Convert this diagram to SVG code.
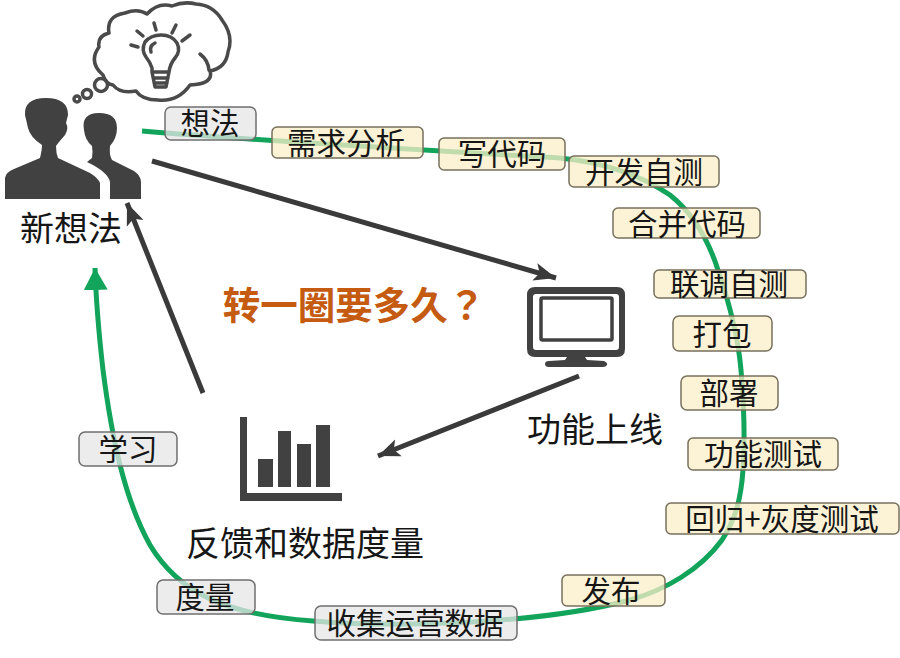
<svg xmlns="http://www.w3.org/2000/svg" width="900" height="658" viewBox="0 0 900 658">
<style>
text{font-family:"Noto Sans CJK SC","Liberation Sans",sans-serif;fill:#161616;text-anchor:middle}
.lb{font-size:29.5px}
.cap{font-size:34px}
.y{fill:#fbefc9;fill-opacity:.75;stroke:#77705c;stroke-width:1.5}
.g{fill:#e6e6e6;fill-opacity:.75;stroke:#6f6f6f;stroke-width:1.5}
.dk{fill:#414141}
.ln{fill:none;stroke:#4a4a4a;stroke-width:3.5;stroke-linecap:round;stroke-linejoin:round}
.ar{fill:none;stroke:#3a3a3a;stroke-width:5}
</style>
<defs>
<marker id="dark" markerUnits="userSpaceOnUse" markerWidth="24" markerHeight="20" refX="22" refY="10" orient="auto"><path d="M0,1 L22,10 L0,19 L5,10 Z" fill="#3a3a3a"/></marker>
<marker id="green" markerUnits="userSpaceOnUse" markerWidth="24" markerHeight="26" refX="22" refY="13" orient="auto"><path d="M0,1 L22,13 L0,25 Z" fill="#12a45a"/></marker>
</defs>
<rect width="900" height="658" fill="#fff"/>
<g id="connectors">
<path d="M142,131 C260,141 420,150 560,158 C610,163 645,178 670,195 C695,215 710,245 718,270 C730,305 738,335 741,370 C744,405 745,440 743,470 C741,500 735,520 722,540 C700,570 665,590 630,600 C540,624 400,628 313,621 C225,615 178,592 150,545 C125,500 112,440 103,370 C99,335 96,300 95,268" fill="none" stroke="#12a45a" stroke-width="5" marker-end="url(#green)"/>
<path class="ar" d="M152,161 L556,278" marker-end="url(#dark)"/>
<path class="ar" d="M579,376 L378,456" marker-end="url(#dark)"/>
<path class="ar" d="M203,393 L127,203" marker-end="url(#dark)"/>
</g>
<g id="person-icon">
<path class="dk" d="M5,199 V178 Q6,172 14,169 L40,158 Q42,150 42,145 Q30,137 28,128 L25,115 Q24,98 46,98 Q68,98 68,115 L66,123 Q69,128 65,135 Q58,143 56,146 Q56,153 58,158 L90,173 Q98,178 100,183 V199 Z"/>
<path class="dk" d="M110,199 V182 Q108,172 87,162 L92,158 Q93,152 92,146 Q85,140 84,130 Q81,113 99,113 Q117,113 117,128 Q117,138 110,146 Q109,155 112,160 L134,171 Q141,176 141,182 V199 Z"/>
<text class="cap" x="71" y="241">新想法</text>
</g>
<g id="thought-icon">
<path class="ln" d="M103,75 Q88,62 99,47 Q97,36 109,33 Q106,16 125,13 Q138,8 147,14 Q158,2 172,6 Q184,1 196,4 Q213,5 222,20 Q234,36 228,52 Q226,68 210,71 Q214,84 190,85 Q178,102 158,100 Q142,100 136,91 Q120,94 113,85 Q106,84 103,75 Z"/>
<path class="ln" d="M200,54 Q208,60 209,70" stroke-width="2.5"/>
<circle class="ln" cx="101" cy="85" r="6.5" fill="#fff"/>
<circle class="ln" cx="87" cy="94" r="4.5"/>
<circle class="ln" cx="77" cy="99" r="3"/>
<path class="ln" d="M152,72 L152,68 Q150,62 146,57 Q141,50 145,42 Q151,35 161,35 Q172,35 177,43 Q181,51 175,58 Q170,64 169,72 Z M152,72 L155,87 L166,87 L169,72 M154,78 L168,78 M155,83 L167,83"/>
<path class="ln" d="M151,52 Q149,46 155,43" stroke-width="2"/>
<path class="ln" d="M131,45 L138,47 M137,31 L143,36 M154,23 L156,30 M176,25 L172,33 M190,35 L182,41"/>
</g>
<g id="monitor-icon">
<path class="dk" fill-rule="evenodd" d="M535,287 H617 Q625,287 625,295 V349 Q625,357 617,357 H585 L587,360 L604,361 Q608,363 607,365 Q606,367 603,367 H549 Q545,367 545,364 Q545,361 549,361 L565,360 L567,357 H535 Q527,357 527,349 V295 Q527,287 535,287 Z M536,294 Q533,294 533,297 V347 Q533,350 536,350 H616 Q619,350 619,347 V297 Q619,294 616,294 Z"/>
<rect x="541" y="298" width="71" height="42" rx="1.5" fill="none" stroke="#414141" stroke-width="3.5"/>
<text class="cap" x="595" y="442">功能上线</text>
</g>
<g id="chart-icon">
<path class="dk" d="M240,417 H247 V493 H342 V501 H240 Z"/>
<rect class="dk" x="258" y="459" width="15" height="28"/>
<rect class="dk" x="278" y="431" width="13" height="56"/>
<rect class="dk" x="297" y="444" width="14" height="43"/>
<rect class="dk" x="316" y="425" width="14" height="62"/>
<text class="cap" x="305" y="556">反馈和数据度量</text>
</g>
<g id="question"><text x="354" y="319" font-size="37.5" font-weight="700" style="fill:#c55a11;font-family:'Noto Sans CJK TC',sans-serif">转一圈要多久？</text></g>
<g id="n1"><rect class="g" x="165" y="107" width="91" height="33" rx="6"/><text class="lb" x="210" y="134">想法</text></g>
<g id="n2"><rect class="y" x="272" y="127" width="151" height="31" rx="5"/><text class="lb" x="346" y="154">需求分析</text></g>
<g id="n3"><rect class="y" x="439" y="138" width="126" height="32" rx="5"/><text class="lb" x="502" y="165">写代码</text></g>
<g id="n4"><rect class="y" x="569" y="156" width="150" height="31" rx="5"/><text class="lb" x="644" y="183">开发自测</text></g>
<g id="n5"><rect class="y" x="613" y="208" width="147" height="30" rx="5"/><text class="lb" x="687" y="235">合并代码</text></g>
<g id="n6"><rect class="y" x="654" y="270" width="152" height="28" rx="5"/><text class="lb" x="729" y="295">联调自测</text></g>
<g id="n7"><rect class="y" x="673" y="316" width="99" height="35" rx="6"/><text class="lb" x="722" y="345">打包</text></g>
<g id="n8"><rect class="y" x="681" y="376" width="97" height="34" rx="6"/><text class="lb" x="729" y="404">部署</text></g>
<g id="n9"><rect class="y" x="688" y="438" width="150" height="32" rx="5"/><text class="lb" x="763" y="465">功能测试</text></g>
<g id="n10"><rect class="y" x="666" y="503" width="233" height="31" rx="5"/><text class="lb" x="782" y="530">回归+灰度测试</text></g>
<g id="n11"><rect class="y" x="562" y="575" width="103" height="31" rx="5"/><text class="lb" x="611" y="602">发布</text></g>
<g id="n12"><rect class="g" x="315" y="606" width="202" height="34" rx="6"/><text class="lb" x="415" y="634">收集运营数据</text></g>
<g id="n13"><rect class="g" x="157" y="580" width="98" height="34" rx="6"/><text class="lb" x="205" y="608">度量</text></g>
<g id="n14"><rect class="g" x="79" y="432" width="98" height="34" rx="6"/><text class="lb" x="128" y="460">学习</text></g>
</svg>
